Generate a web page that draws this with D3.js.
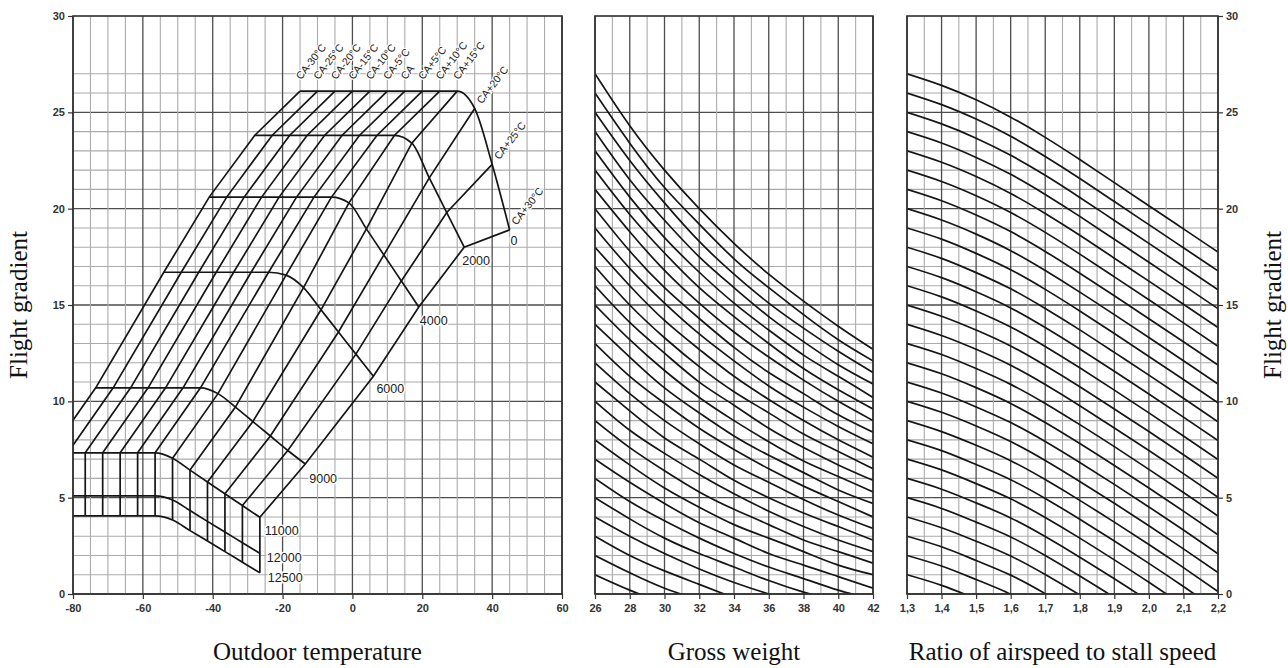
<!DOCTYPE html>
<html>
<head>
<meta charset="utf-8">
<script src="https://cdnjs.cloudflare.com/ajax/libs/d3/7.8.5/d3.min.js"></script>
<style>
  body { margin: 0; background: #fff; }
  svg { display: block; }
</style>
</head>
<body>
<svg id="chart"></svg>
<script>
let width = 1288
let height = 668

// axis ticks
let gradTicks = [0, 5, 10, 15, 20, 25, 30]
let tempTicks = [-80, -60, -40, -20, 0, 20, 40, 60]
let weightTicks = [26, 28, 30, 32, 34, 36, 38, 40, 42]
let ratioTicks = [1.3, 1.4, 1.5, 1.6, 1.7, 1.8, 1.9, 2.0, 2.1, 2.2]

// left panel: ISA deviation lines and pressure altitude curves
let isaDev = [-30, -25, -20, -15, -10, -5, 0, 5, 10, 15, 20, 25, 30]
let isaLabels = ['CA-30°C', 'CA-25°C', 'CA-20°C', 'CA-15°C', 'CA-10°C', 'CA-5°C', 'CA',
                 'CA+5°C', 'CA+10°C', 'CA+15°C', 'CA+20°C', 'CA+25°C', 'CA+30°C']
let altLabels = ['0', '2000', '4000', '6000', '9000', '11000', '12000', '12500']
let altIsaTemp = [15, 2, -11, -24, -43.5, -56.5, -56.5, -56.5]
let altGradient = [
  [26.1, 26.1, 26.1, 26.1, 26.1, 26.1, 26.1, 26.1, 26.1, 26.1, 25.2, 22.3, 18.9],
  [23.8, 23.8, 23.8, 23.8, 23.8, 23.8, 23.8, 23.8, 23.8, 23.4, 21.6, 19.8, 18.0],
  [20.6, 20.6, 20.6, 20.6, 20.6, 20.6, 20.6, 20.6, 20.3, 18.95, 17.6, 16.25, 14.9],
  [16.7, 16.7, 16.7, 16.7, 16.7, 16.7, 16.7, 16.55, 15.9, 14.75, 13.6, 12.45, 11.3],
  [10.7, 10.7, 10.7, 10.7, 10.7, 10.7, 10.7, 10.4, 9.7, 8.95, 8.2, 7.45, 6.75],
  [7.33, 7.33, 7.33, 7.33, 7.33, 7.33, 7.33, 7.05, 6.43, 5.81, 5.2, 4.59, 3.98],
  [5.09, 5.09, 5.09, 5.09, 5.09, 5.09, 5.09, 4.88, 4.33, 3.77, 3.22, 2.66, 2.11],
  [4.05, 4.05, 4.05, 4.05, 4.05, 4.05, 4.05, 3.84, 3.29, 2.75, 2.2, 1.65, 1.1]
]

// middle panel: gross weight curves
let weightCols = [26, 28, 30, 32, 34, 36, 38, 40, 42]
let weightCurves = [
  [27, 24.3, 22.0, 20.0, 18.2, 16.6, 15.2, 13.9, 12.7],
  [26, 23.4, 21.1, 19.2, 17.4, 15.9, 14.5, 13.2, 12.1],
  [25, 22.5, 20.3, 18.3, 16.6, 15.1, 13.8, 12.6, 11.5],
  [24, 21.5, 19.4, 17.5, 15.9, 14.4, 13.1, 11.9, 10.9],
  [23, 20.6, 18.5, 16.7, 15.1, 13.7, 12.4, 11.3, 10.2],
  [22, 19.7, 17.7, 15.9, 14.4, 13.0, 11.7, 10.6, 9.6],
  [21, 18.8, 16.8, 15.1, 13.6, 12.3, 11.1, 10.0, 9.0],
  [20, 17.8, 15.9, 14.3, 12.8, 11.5, 10.4, 9.3, 8.4],
  [19, 16.9, 15.1, 13.5, 12.1, 10.8, 9.7, 8.7, 7.8],
  [18, 16.0, 14.2, 12.7, 11.3, 10.1, 9.0, 8.0, 7.1],
  [17, 15.0, 13.3, 11.8, 10.5, 9.4, 8.3, 7.4, 6.5],
  [16, 14.1, 12.5, 11.0, 9.8, 8.6, 7.6, 6.7, 5.9],
  [15, 13.2, 11.6, 10.2, 9.0, 7.9, 6.9, 6.1, 5.3],
  [14, 12.3, 10.7, 9.4, 8.2, 7.2, 6.3, 5.4, 4.7],
  [13, 11.3, 9.9, 8.6, 7.5, 6.5, 5.6, 4.8, 4.0],
  [12, 10.4, 9.0, 7.8, 6.7, 5.8, 4.9, 4.1, 3.4],
  [11, 9.5, 8.1, 7.0, 5.9, 5.0, 4.2, 3.5, 2.8],
  [10, 8.5, 7.3, 6.2, 5.2, 4.3, 3.5, 2.8, 2.2],
  [9, 7.6, 6.4, 5.3, 4.4, 3.6, 2.8, 2.2, 1.6],
  [8, 6.7, 5.5, 4.5, 3.6, 2.9, 2.2, 1.5, 1.0],
  [7, 5.8, 4.7, 3.7, 2.9, 2.1, 1.5, 0.9, 0.3],
  [6, 4.8, 3.8, 2.9, 2.1, 1.4, 0.8, 0.2, -0.3],
  [5, 3.9, 2.9, 2.1, 1.4, 0.7, 0.1, -0.4],
  [4, 3.0, 2.1, 1.3, 0.6, 0.0, -0.6],
  [3, 2.0, 1.2, 0.5, -0.2],
  [2, 1.1, 0.3, -0.3],
  [1, 0.2, -0.5]
]

// right panel: airspeed ratio curves
let ratioCols = [1.3, 1.4, 1.5, 1.6, 1.7, 1.8, 1.9, 2.0, 2.1, 2.2]
let ratioCurves = [
  [27, 26.4, 25.65, 24.75, 23.7, 22.55, 21.35, 20.15, 18.95, 17.75],
  [26, 25.4, 24.65, 23.76, 22.71, 21.57, 20.37, 19.17, 17.97, 16.77],
  [25, 24.4, 23.66, 22.77, 21.73, 20.58, 19.39, 18.2, 17.0, 15.79],
  [24, 23.41, 22.66, 21.78, 20.74, 19.6, 18.41, 17.22, 16.02, 14.81],
  [23, 22.41, 21.67, 20.79, 19.75, 18.62, 17.43, 16.24, 15.04, 13.83],
  [22, 21.41, 20.67, 19.8, 18.77, 17.64, 16.46, 15.27, 14.07, 12.86],
  [21, 20.41, 19.67, 18.81, 17.78, 16.65, 15.48, 14.29, 13.09, 11.88],
  [20, 19.41, 18.68, 17.82, 16.79, 15.67, 14.5, 13.31, 12.11, 10.9],
  [19, 18.42, 17.68, 16.83, 15.81, 14.69, 13.52, 12.33, 11.13, 9.92],
  [18, 17.42, 16.68, 15.84, 14.82, 13.71, 12.54, 11.36, 10.16, 8.94],
  [17, 16.42, 15.69, 14.85, 13.83, 12.72, 11.56, 10.38, 9.18, 7.96],
  [16, 15.42, 14.69, 13.86, 12.85, 11.74, 10.58, 9.4, 8.2, 6.98],
  [15, 14.42, 13.7, 12.87, 11.86, 10.76, 9.6, 8.43, 7.23, 6.0],
  [14, 13.42, 12.7, 11.87, 10.87, 9.77, 8.62, 7.45, 6.25, 5.02],
  [13, 12.43, 11.7, 10.88, 9.89, 8.79, 7.65, 6.47, 5.27, 4.05],
  [12, 11.43, 10.71, 9.89, 8.9, 7.81, 6.67, 5.5, 4.3, 3.07],
  [11, 10.43, 9.71, 8.9, 7.92, 6.83, 5.69, 4.52, 3.32, 2.09],
  [10, 9.43, 8.72, 7.91, 6.93, 5.84, 4.71, 3.54, 2.34, 1.11],
  [9, 8.43, 7.72, 6.92, 5.94, 4.86, 3.73, 2.57, 1.37, 0.13],
  [8, 7.44, 6.72, 5.93, 4.96, 3.88, 2.75, 1.59, 0.39, -0.85],
  [7, 6.44, 5.73, 4.94, 3.97, 2.9, 1.77, 0.61, -0.59, -1.8],
  [6, 5.44, 4.73, 3.95, 2.98, 1.91, 0.79, -0.37, -1.57],
  [5, 4.44, 3.73, 2.96, 2.0, 0.93, -0.18, -1.33],
  [4, 3.44, 2.74, 1.97, 1.01, -0.05, -1.16],
  [3, 2.45, 1.74, 0.98, 0.02, -1.03],
  [2, 1.45, 0.75, -0.01, -0.96],
  [1, 0.45, -0.25, -1.0]
]

let minorColor = '#ababab'
let majorColor = '#4d4d4d'
let inkColor = '#151515'
let tickFont = "'Liberation Sans Narrow', 'Arial Narrow', 'Liberation Sans', sans-serif"

let svg = d3.select('#chart').attr('width', width).attr('height', height)
let defs = svg.append('defs')

let yScale = d3.scaleLinear().domain([0, 30]).range([594, 16])
let xTemp = d3.scaleLinear().domain([-80, 60]).range([73, 562])
let xWeight = d3.scaleLinear().domain([26, 42]).range([595, 873])
let xRatio = d3.scaleLinear().domain([1.3, 2.2]).range([907, 1218])

let gridLevels = d3.range(0, 28)

let drawPanel = (name, xScale, vLines, isMajor) => {
  let [x0, x1] = xScale.range()
  let [y1, y0] = yScale.range()
  defs.append('clipPath').attr('id', 'clip-' + name)
    .append('rect').attr('x', x0).attr('y', y0).attr('width', x1 - x0).attr('height', y1 - y0)

  let g = svg.append('g').attr('class', 'panel ' + name)
  let grid = g.append('g').attr('class', 'grid')
  // light lines first, dark lines on top
  let hl = gridLevels.slice().sort((a, b) => (a % 5 == 0) - (b % 5 == 0))
  grid.selectAll('line.h').data(hl).enter().append('line')
    .attr('class', 'h')
    .attr('x1', x0).attr('x2', x1)
    .attr('y1', d => yScale(d)).attr('y2', d => yScale(d))
    .attr('stroke', d => d % 5 == 0 ? majorColor : minorColor)
    .attr('stroke-width', d => d % 5 == 0 ? 1.3 : 1.1)
  let vl = vLines.slice().sort((a, b) => isMajor(a) - isMajor(b))
  grid.selectAll('line.v').data(vl).enter().append('line')
    .attr('class', 'v')
    .attr('x1', d => xScale(d)).attr('x2', d => xScale(d))
    .attr('y1', y0).attr('y2', y1)
    .attr('stroke', d => isMajor(d) ? majorColor : minorColor)
    .attr('stroke-width', d => isMajor(d) ? 1.3 : 1.1)

  let marks = g.append('g').attr('clip-path', 'url(#clip-' + name + ')')

  g.append('rect')
    .attr('x', x0).attr('y', y0).attr('width', x1 - x0).attr('height', y1 - y0)
    .attr('fill', 'none').attr('stroke', '#2e2e2e').attr('stroke-width', 1.6)
  return marks
}

let tempLines = d3.range(-80, 61, 5)
let weightLines = d3.range(26, 42.01, 1)
let ratioLines = d3.range(0, 19).map(i => 1.3 + i * 0.05)

let leftMarks = drawPanel('temp', xTemp, tempLines, d => d % 20 == 0)
let midMarks = drawPanel('weight', xWeight, weightLines, d => d % 2 == 0)
let rightMarks = drawPanel('ratio', xRatio, ratioLines, d => Math.round(d * 100) % 10 == 0)

// ---- left panel ----
let altLine = d3.line()
  .x(d => xTemp(d[0])).y(d => yScale(d[1]))
  .curve(d3.curveMonotoneX)
let isaLine = d3.line()
  .x(d => xTemp(d[0])).y(d => yScale(d[1]))

altGradient.forEach((row, i) => {
  let pts = row.map((g, j) => [altIsaTemp[i] + isaDev[j], g])
  leftMarks.append('path').datum(pts)
    .attr('d', altLine)
    .attr('fill', 'none').attr('stroke', inkColor).attr('stroke-width', 1.7)
})

isaDev.forEach((dev, j) => {
  let pts = altGradient.map((row, i) => [altIsaTemp[i] + dev, row[j]])
  leftMarks.append('path').datum(pts)
    .attr('d', isaLine)
    .attr('fill', 'none').attr('stroke', inkColor).attr('stroke-width', 1.7)
})

let labelLayer = svg.append('g').attr('class', 'labels')

isaDev.forEach((dev, j) => {
  let x = xTemp(altIsaTemp[0] + dev)
  let y = yScale(altGradient[0][j])
  let lx = dev <= 15 ? x + 1 : x + 7
  let ly = dev <= 15 ? y - 11 : y - 4
  labelLayer.append('text')
    .attr('transform', 'translate(' + lx + ',' + ly + ') rotate(-52)')
    .attr('font-family', "'Liberation Sans', Arial, sans-serif")
    .attr('font-size', 10.5)
    .attr('fill', '#222')
    .attr('stroke', '#fff').attr('stroke-width', 2.5).attr('paint-order', 'stroke')
    .text(isaLabels[j])
})

let altLabelOffsets = [[1, 15], [-2, 18], [1, 18], [3, 17], [4, 19], [5, 18], [7, 9], [8, 9]]
altLabels.forEach((lab, i) => {
  let last = altGradient[i].length - 1
  let x = xTemp(altIsaTemp[i] + isaDev[last])
  let y = yScale(altGradient[i][last])
  labelLayer.append('text')
    .attr('x', x + altLabelOffsets[i][0])
    .attr('y', y + altLabelOffsets[i][1])
    .attr('font-family', "'Liberation Sans', Arial, sans-serif")
    .attr('font-size', 12.5)
    .attr('fill', '#222')
    .attr('stroke', '#fff').attr('stroke-width', 3).attr('paint-order', 'stroke')
    .text(lab)
})

// ---- middle panel ----
let weightLine = d3.line()
  .x(d => xWeight(d[0])).y(d => yScale(d[1]))
  .curve(d3.curveNatural)
weightCurves.forEach(row => {
  midMarks.append('path').datum(row.map((v, i) => [weightCols[i], v]))
    .attr('d', weightLine)
    .attr('fill', 'none').attr('stroke', inkColor).attr('stroke-width', 1.7)
})

// ---- right panel ----
let ratioLine = d3.line()
  .x(d => xRatio(d[0])).y(d => yScale(d[1]))
  .curve(d3.curveNatural)
ratioCurves.forEach(row => {
  rightMarks.append('path').datum(row.map((v, i) => [ratioCols[i], v]))
    .attr('d', ratioLine)
    .attr('fill', 'none').attr('stroke', inkColor).attr('stroke-width', 1.7)
})

// ---- axes ----
let styleAxis = g => {
  g.select('.domain').remove()
  g.attr('font-family', tickFont).attr('font-size', 11).attr('font-weight', 'bold')
  g.selectAll('.tick line').attr('stroke', '#333').attr('stroke-width', 1.2)
  g.selectAll('.tick text').attr('fill', '#333')
}

svg.append('g').attr('transform', 'translate(73,0)')
  .call(d3.axisLeft(yScale).tickValues(gradTicks).tickSize(5).tickPadding(3))
  .call(styleAxis)
svg.append('g').attr('transform', 'translate(1218,0)')
  .call(d3.axisRight(yScale).tickValues(gradTicks).tickSize(5).tickPadding(3))
  .call(styleAxis)
svg.append('g').attr('transform', 'translate(0,594)')
  .call(d3.axisBottom(xTemp).tickValues(tempTicks).tickSize(5).tickPadding(5)
    .tickFormat(d => String(d)))
  .call(styleAxis)
svg.append('g').attr('transform', 'translate(0,594)')
  .call(d3.axisBottom(xWeight).tickValues(weightTicks).tickSize(5).tickPadding(5))
  .call(styleAxis)
svg.append('g').attr('transform', 'translate(0,594)')
  .call(d3.axisBottom(xRatio).tickValues(ratioTicks).tickSize(5).tickPadding(5)
    .tickFormat(d => d.toFixed(1).replace('.', ',')))
  .call(styleAxis)

// ---- titles ----
let titleFont = "'Liberation Serif', 'Times New Roman', serif"
let titles = [
  { text: 'Outdoor temperature', x: (73 + 562) / 2 },
  { text: 'Gross weight', x: (595 + 873) / 2 },
  { text: 'Ratio of airspeed to stall speed', x: (907 + 1218) / 2 }
]
svg.selectAll('text.xtitle').data(titles).enter().append('text')
  .attr('class', 'xtitle')
  .attr('x', d => d.x).attr('y', 660)
  .attr('text-anchor', 'middle')
  .attr('font-family', titleFont).attr('font-size', 25).attr('fill', '#111')
  .text(d => d.text)

svg.selectAll('text.ytitle').data([27, 1281]).enter().append('text')
  .attr('class', 'ytitle')
  .attr('transform', d => 'translate(' + d + ',305) rotate(-90)')
  .attr('text-anchor', 'middle')
  .attr('font-family', titleFont).attr('font-size', 25).attr('fill', '#111')
  .text('Flight gradient')
</script>
</body>
</html>
